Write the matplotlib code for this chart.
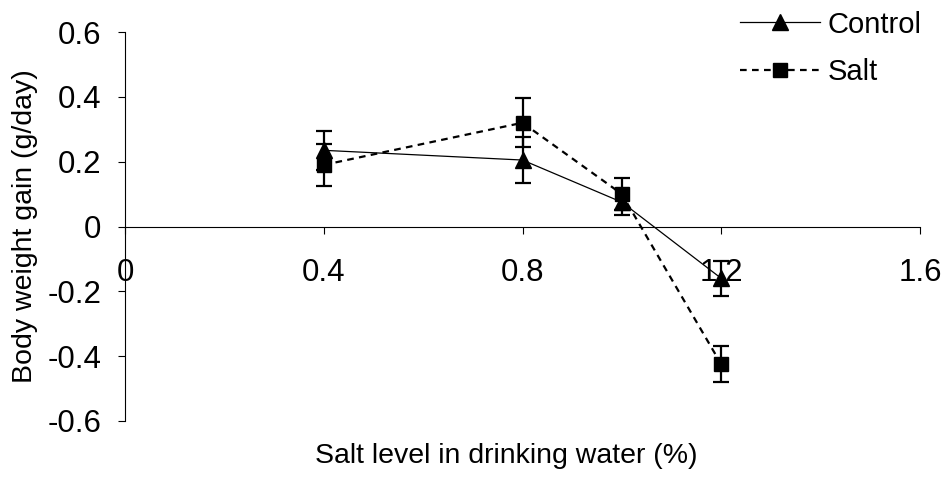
import matplotlib
matplotlib.use("Agg")
import matplotlib.pyplot as plt

salt_level = [0.4, 0.8, 1.0, 1.2]
control_gain = [0.235, 0.205, 0.075, -0.16]
control_err = [0.06, 0.07, 0.04, 0.055]
salt_gain = [0.19, 0.32, 0.10, -0.425]
salt_err = [0.065, 0.075, 0.05, 0.055]
xticks = [0, 0.4, 0.8, 1.2, 1.6]
xticklabels = ["0", "0.4", "0.8", "1.2", "1.6"]
yticks = [-0.6, -0.4, -0.2, 0, 0.2, 0.4, 0.6]
yticklabels = ["-0.6", "-0.4", "-0.2", "0", "0.2", "0.4", "0.6"]

plt.rcParams['font.family'] = ['Liberation Sans', 'DejaVu Sans']

fig = plt.figure(figsize=(9.44, 4.88), dpi=100)
ax = fig.add_axes([125/944, 1 - 421/488, (920-125)/944, (421-32)/488])
ax.set_axisbelow(True)

ax.errorbar(salt_level, control_gain, yerr=control_err, fmt='none',
            ecolor='black', elinewidth=1.6, capsize=5.5, capthick=1.6)
ax.errorbar(salt_level, salt_gain, yerr=salt_err, fmt='none',
            ecolor='black', elinewidth=1.6, capsize=5.5, capthick=1.6)
ax.plot(salt_level, control_gain, color='black', lw=0.9, marker='^',
        markersize=11, label='Control')
ax.plot(salt_level, salt_gain, color='black', lw=1.6, ls=(0, (3.0, 2.4)),
        marker='s', markersize=10.5, label='Salt')

ax.set_xlim(0, 1.6)
ax.set_ylim(-0.6, 0.6)
ax.spines['right'].set_visible(False)
ax.spines['top'].set_visible(False)
ax.spines['bottom'].set_position(('data', 0))
for s in ['left', 'bottom']:
    ax.spines[s].set_linewidth(0.8)
ax.set_xticks(xticks)
ax.set_xticklabels(xticklabels)
ax.set_yticks(yticks)
ax.set_yticklabels(yticklabels)
ax.tick_params(axis='x', direction='out', length=5, width=0.8, pad=18, labelsize=22.5)
ax.tick_params(axis='y', direction='out', length=5, width=0.8, pad=12, labelsize=22.5)

ax.set_ylabel('Body weight gain (g/day)', fontsize=20.5)
ax.yaxis.set_label_coords(-0.109, 0.5)
fig.text(506/944, 1 - 456/488, 'Salt level in drinking water (%)', fontsize=20.5,
         ha='center', va='center')

leg = ax.legend(loc='upper right', bbox_to_anchor=(1.0025, 1.055), frameon=False,
                fontsize=21, handlelength=2.74, handletextpad=0.27,
                labelspacing=0.68, borderaxespad=0, borderpad=0)

fig.savefig('out.png', dpi=100)
